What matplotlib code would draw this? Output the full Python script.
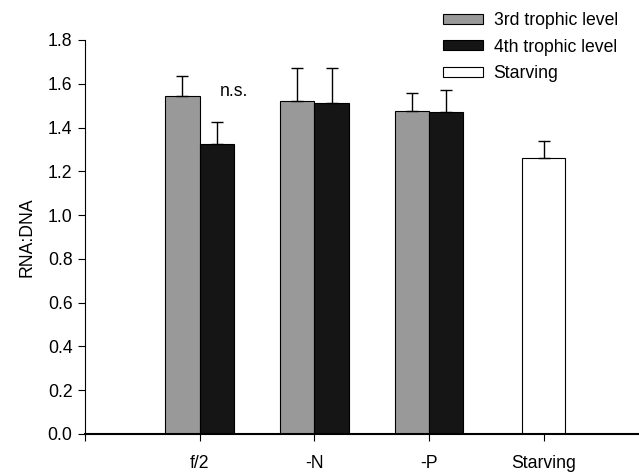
import matplotlib.pyplot as plt

plt.rcParams['font.family'] = ['Liberation Sans', 'DejaVu Sans']
plt.rcParams['font.size'] = 12.7

categories = ['f/2', '-N', '-P', 'Starving']
third_vals = [1.545, 1.52, 1.475]
third_err = [0.09, 0.15, 0.085]
fourth_vals = [1.325, 1.51, 1.47]
fourth_err = [0.10, 0.16, 0.10]
starving_val = [1.26]
starving_err = [0.08]

fig = plt.figure(figsize=(6.39, 4.73), dpi=100)
ax = fig.add_axes([0.133, 0.0825, 0.865, 0.833])

pos = [1, 2, 3]
w = 0.3
ekw = dict(ecolor='black', elinewidth=1, capsize=4, capthick=1)
ax.bar([p - w / 2 for p in pos], third_vals, w, color='#999999', edgecolor='black', linewidth=0.8,
       yerr=[[0] * 3, third_err], error_kw=ekw, label='3rd trophic level')
ax.bar([p + w / 2 for p in pos], fourth_vals, w, color='#151515', edgecolor='black', linewidth=0.8,
       yerr=[[0] * 3, fourth_err], error_kw=ekw, label='4th trophic level')
ax.bar([4], starving_val, 0.38, color='white', edgecolor='black', linewidth=0.8,
       yerr=[[0], starving_err], error_kw=ekw, label='Starving')

ax.text(1.177, 1.545, 'n.s.')

ax.set_xlim(0, 4.82)
ax.set_ylim(0, 1.8)
ax.set_xticks([0, 1, 2, 3, 4])
ax.set_xticklabels([''] + categories)
ax.set_yticks([i * 0.2 for i in range(10)])
ax.set_yticklabels(['%.1f' % (i * 0.2) for i in range(10)])
ax.tick_params(direction='out', length=5, width=0.8)
ax.tick_params(axis='x', pad=10)
ax.tick_params(axis='y', pad=4)
ax.spines['top'].set_visible(False)
ax.spines['right'].set_visible(False)
ax.spines['bottom'].set_linewidth(1.5)
ax.spines['left'].set_linewidth(0.8)
ax.set_ylabel('RNA:DNA', labelpad=9)

ax.legend(loc='upper left', bbox_to_anchor=(0.68, 0.993), bbox_transform=fig.transFigure,
          frameon=False, handlelength=2.25, handleheight=0.5, labelspacing=0.54,
          handletextpad=0.6, borderpad=0)

fig.savefig('out.png', dpi=100)
